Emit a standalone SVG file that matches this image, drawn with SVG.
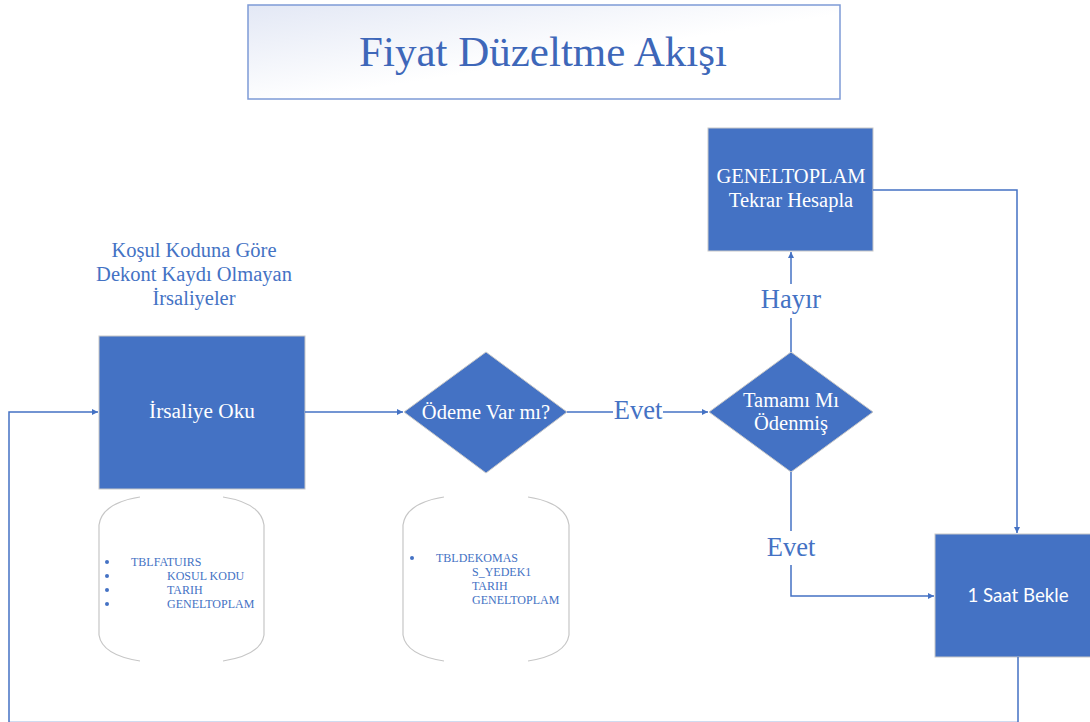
<svg xmlns="http://www.w3.org/2000/svg" width="1090" height="722" viewBox="0 0 1090 722">
<defs>
<linearGradient id="tg" x1="0" y1="0" x2="1" y2="1">
<stop offset="0" stop-color="#e3e8f5"/>
<stop offset="0.55" stop-color="#ffffff"/>
<stop offset="1" stop-color="#ffffff"/>
</linearGradient>
<marker id="ah" viewBox="0 0 10 10" refX="10" refY="5" markerWidth="6" markerHeight="6" orient="auto" markerUnits="userSpaceOnUse">
<path d="M0,0 L10,5 L0,10 z" fill="#4472c4"/>
</marker>
<style>
.blk{fill:#4472c4;stroke:#c8c8c8;stroke-width:1}
.wt{fill:#ffffff;font-family:"Liberation Serif","Times New Roman",serif;font-size:20.5px;text-anchor:middle}
.bt{fill:#4472c4;font-family:"Liberation Serif","Times New Roman",serif;text-anchor:middle}
.lbl{fill:#4472c4;font-family:"Liberation Serif","Times New Roman",serif;font-size:26.5px;text-anchor:middle}
.cyl{fill:none;stroke:#c6c6c6;stroke-width:1.2}
.lst{fill:#4472c4;font-family:"Liberation Serif","Times New Roman",serif;font-size:12px}
.con{fill:none;stroke:#4472c4;stroke-width:1.5}
</style>
</defs>
<rect width="1090" height="722" fill="#ffffff"/>

<g id="title">
<rect x="248" y="5" width="592" height="94" fill="url(#tg)" stroke="#7d9ad6" stroke-width="1.5"/>
<text x="543" y="66" class="bt" font-size="43" fill="#3e67b9" style="fill:#3e67b9">Fiyat Düzeltme Akışı</text>
</g>

<g id="heading">
<text class="bt" font-size="20.5" x="194" y="257">Koşul Koduna Göre</text>
<text class="bt" font-size="20.5" x="194" y="281">Dekont Kaydı Olmayan</text>
<text class="bt" font-size="20.5" x="194" y="305">İrsaliyeler</text>
</g>

<g id="irsaliye-oku">
<rect class="blk" x="99" y="336" width="206" height="153"/>
<text class="wt" x="202" y="418" font-size="21.3" style="font-size:21.3px">İrsaliye Oku</text>
</g>

<g id="db-tblfatuirs">
<path class="cyl" d="M140,497 Q102,503 99,525 L99,635 Q102,655 140,661"/>
<path class="cyl" d="M223,497 Q261,503 264,525 L264,635 Q261,655 223,661"/>
<circle cx="107" cy="562" r="2" fill="#4472c4"/>
<circle cx="107" cy="576" r="2" fill="#4472c4"/>
<circle cx="107" cy="590" r="2" fill="#4472c4"/>
<circle cx="107" cy="604" r="2" fill="#4472c4"/>
<text class="lst" x="131" y="566">TBLFATUIRS</text>
<text class="lst" x="167" y="580">KOSUL KODU</text>
<text class="lst" x="167" y="594">TARIH</text>
<text class="lst" x="167" y="608">GENELTOPLAM</text>
</g>

<g id="odeme-var-mi">
<polygon class="blk" points="404,412 486,352 567,412 486,473"/>
<text class="wt" x="486" y="419">Ödeme Var mı?</text>
</g>

<g id="db-tbldekomas">
<path class="cyl" d="M444,497 Q406,503 403,525 L403,635 Q406,655 444,661"/>
<path class="cyl" d="M528,497 Q566,503 569,525 L569,635 Q566,655 528,661"/>
<circle cx="412" cy="558" r="2" fill="#4472c4"/>
<text class="lst" x="436" y="562">TBLDEKOMAS</text>
<text class="lst" x="472" y="576">S_YEDEK1</text>
<text class="lst" x="472" y="590">TARIH</text>
<text class="lst" x="472" y="604">GENELTOPLAM</text>
</g>

<g id="tamami-mi-odenmis">
<polygon class="blk" points="709,412 791,352 873,412 791,472"/>
<text class="wt" x="791" y="407">Tamamı Mı</text>
<text class="wt" x="791" y="430">Ödenmiş</text>
</g>

<g id="geneltoplam-hesapla">
<rect class="blk" x="708" y="128" width="165" height="123"/>
<text class="wt" x="791" y="183">GENELTOPLAM</text>
<text class="wt" x="791" y="207">Tekrar Hesapla</text>
</g>

<g id="saat-bekle">
<rect class="blk" x="935" y="534" width="166" height="123"/>
<text x="1018" y="602" fill="#ffffff" font-family="Lato,'Open Sans',sans-serif" font-size="18.7" text-anchor="middle">1 Saat Bekle</text>
</g>

<g id="connectors">
<line class="con" x1="305" y1="412" x2="403" y2="412" marker-end="url(#ah)"/>
<line class="con" x1="567" y1="412" x2="613" y2="412"/>
<text class="lbl" x="638" y="419">Evet</text>
<line class="con" x1="663" y1="412" x2="708" y2="412" marker-end="url(#ah)"/>
<line class="con" x1="791" y1="352" x2="791" y2="318"/>
<text class="lbl" x="791" y="308">Hayır</text>
<line class="con" x1="791" y1="284" x2="791" y2="252" marker-end="url(#ah)"/>
<line class="con" x1="791" y1="472" x2="791" y2="531"/>
<text class="lbl" x="791" y="556">Evet</text>
<polyline class="con" points="791,565 791,596 934,596" marker-end="url(#ah)"/>
<polyline class="con" points="873,190 1017,190 1017,533" marker-end="url(#ah)"/>
<polyline class="con" points="1018,657 1018,722.6 9,722.6 9,412 98,412" marker-end="url(#ah)"/>
</g>
</svg>
